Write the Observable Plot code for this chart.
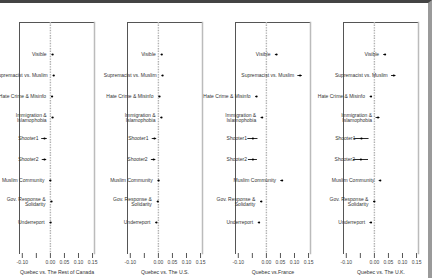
<!DOCTYPE html>
<html>
<head>
<meta charset="utf-8">
<script src="https://cdn.jsdelivr.net/npm/d3@7"></script>
<script src="https://cdn.jsdelivr.net/npm/@observablehq/plot@0.6"></script>
<style>
  html, body { margin: 0; padding: 0; background: #fff; }
  #chart {
    width: 428px; height: 275px;
    border-top: 3px solid #444;
    border-right: 4px solid #9a9a9a;
    font-family: "Liberation Sans", Arial, sans-serif;
  }
  #chart svg { overflow: visible; display: block; }
</style>
</head>
<body>
<div id="chart"></div>
<script>
// Comparisons (one panel each) and topics (rows, top to bottom)
const comparisons = [
  "Quebec vs. The Rest of Canada",
  "Quebec vs. The U.S.",
  "Quebec vs.France",
  "Quebec vs. The U.K."
];
const topics = [
  "Visible",
  "Supremacist vs. Muslim",
  "Hate Crime & Misinfo",
  "Immigration &\nIslamophobia",
  "Shooter1",
  "Shooter2",
  "Muslim Community",
  "Gov. Response &\nSolidarity",
  "Underreport"
];

// Point estimates per comparison, in topic order
const estRoc = [0.008, 0.012, 0.006, 0.008, -0.021, -0.021, 0.000, 0.004, 0.001];
const estUs  = [0.012, 0.015, 0.004, 0.011, -0.014, -0.017, 0.001, -0.002, -0.007];
const estFr  = [0.036, 0.120, -0.035, -0.015, -0.048, -0.048, 0.056, -0.018, -0.026];
const estUk  = [0.038, 0.069, -0.012, 0.013, -0.046, -0.048, 0.021, 0.000, -0.012];

// Half-widths of the confidence intervals
const ciRoc = [0.002, 0.002, 0.002, 0.002, 0.010, 0.008, 0.002, 0.002, 0.002];
const ciUs  = [0.002, 0.002, 0.002, 0.002, 0.008, 0.008, 0.002, 0.002, 0.002];
const ciFr  = [0.004, 0.008, 0.003, 0.004, 0.018, 0.016, 0.005, 0.003, 0.003];
const ciUk  = [0.005, 0.008, 0.003, 0.007, 0.027, 0.027, 0.004, 0.003, 0.004];

// Axis ticks
const xTicks = [-0.10, -0.05, 0.00, 0.05, 0.10, 0.15];
const xTickLabels = ["-0.10", "", "0.00", "0.05", "0.10", "0.15"];

const estimates = [estRoc, estUs, estFr, estUk];
const halfWidths = [ciRoc, ciUs, ciFr, ciUk];

const rows = comparisons.flatMap((c, j) =>
  topics.map((t, i) => ({
    comparison: c,
    topic: t,
    est: estimates[j][i],
    lo: estimates[j][i] - halfWidths[j][i],
    hi: estimates[j][i] + halfWidths[j][i]
  }))
);

const chart = Plot.plot({
  width: 428,
  height: 275,
  marginTop: 19,
  marginBottom: 25,
  marginLeft: 19,
  marginRight: 9.7,
  style: { fontFamily: "Liberation Sans, Arial, sans-serif", overflow: "visible" },
  fx: { domain: comparisons, paddingInner: 33 / 108, paddingOuter: 0, axis: null },
  x: { domain: [-0.11, 0.157] },
  y: { type: "point", domain: topics, padding: 1.35, axis: null },
  marks: [
    Plot.frame({ anchor: "left", stroke: "#555" }),
    Plot.frame({ anchor: "top", stroke: "#555" }),
    Plot.frame({ anchor: "right", stroke: "#bbb", strokeWidth: 1.5 }),
    Plot.ruleX([0], { stroke: "#b0b0b0", strokeWidth: 1.4, strokeDasharray: "1.4,1.2" }),
    Plot.ruleY(rows, { fx: "comparison", y: "topic", x1: "lo", x2: "hi", stroke: "#111", strokeWidth: 0.9 }),
    Plot.dot(rows, { fx: "comparison", y: "topic", x: "est", r: 1.1, fill: "#000", stroke: "none" }),
    Plot.text(rows, {
      fx: "comparison", y: "topic", x: "est", text: "topic",
      textAnchor: "end", dx: -6, fontSize: 5, fill: "#333", lineHeight: 1.05
    }),
    Plot.axisX({
      ticks: xTicks,
      tickFormat: (d) => xTickLabels[xTicks.findIndex((t) => Math.abs(t - d) < 1e-9)],
      tickSize: 5,
      tickPadding: 2,
      fontSize: 5,
      stroke: "#555",
      color: "#444",
      label: null
    }),
    Plot.text(comparisons, {
      fx: (d) => d, text: (d) => d,
      frameAnchor: "bottom", dy: 20, fontSize: 5.2, fill: "#333"
    })
  ]
});

document.getElementById("chart").appendChild(chart);
</script>
</body>
</html>
